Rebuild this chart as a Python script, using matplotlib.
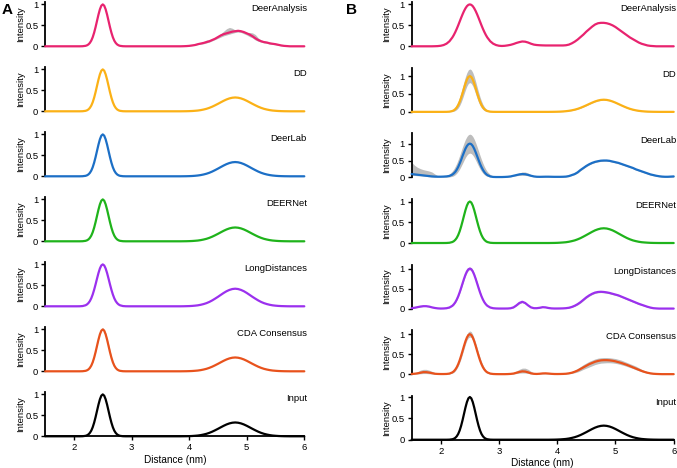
import numpy as np
import matplotlib
matplotlib.use("Agg")
import matplotlib.pyplot as plt

plt.rcParams['font.family'] = ['Liberation Sans', 'DejaVu Sans']

# ---------------- data ----------------
# sampling grid (nm): 0.05 nm steps, 0.025 nm steps across the 2.5 nm peak
distance_nm = np.concatenate([np.linspace(1.5, 2.15, 14),
                              np.linspace(2.2, 2.8, 25),
                              np.linspace(2.85, 6.0, 64)])
methods = ["DeerAnalysis", "DD", "DeerLab", "DEERNet", "LongDistances", "CDA Consensus", "Input"]
method_colors = ["#E8236F", "#FBB116", "#1C6FC6", "#1FB31B", "#9B30EE", "#E8521C", "#000000"]
x_ticks = [2, 3, 4, 5, 6]
y_ticks = [0, 0.5, 1]

# ---- panel A ----
a_deeranalysis = [
    0, 0, 0, 0, 0, 0, 0, 0, 0, 0, 0, 0, 0, 0.002,
    0.011, 0.023, 0.044, 0.080, 0.135, 0.216, 0.325, 0.458, 0.607, 0.755, 0.882, 0.969,
    1.0, 0.969, 0.882, 0.755, 0.607, 0.458, 0.325, 0.216, 0.135, 0.080, 0.044, 0.023, 0.011,
    0.002, 0, 0,
    0, 0, 0, 0, 0, 0, 0, 0, 0, 0,
    0, 0, 0, 0, 0, 0, 0, 0, 0.002, 0.005,
    0.01, 0.02, 0.03, 0.05, 0.065, 0.08, 0.10, 0.12, 0.15, 0.18,
    0.22, 0.26, 0.29, 0.31, 0.33, 0.35, 0.36, 0.37, 0.36, 0.34,
    0.31, 0.28, 0.24, 0.19, 0.15, 0.12, 0.10, 0.09, 0.07, 0.06,
    0.05, 0.035, 0.02, 0.01, 0.005, 0, 0, 0, 0, 0,
    0]
a_deeranalysis_hi = [
    0, 0, 0, 0, 0, 0, 0, 0, 0, 0, 0, 0, 0, 0.002,
    0.011, 0.023, 0.044, 0.080, 0.135, 0.216, 0.325, 0.458, 0.607, 0.755, 0.882, 0.969,
    1.0, 0.969, 0.882, 0.755, 0.607, 0.458, 0.325, 0.216, 0.135, 0.080, 0.044, 0.023, 0.011,
    0.002, 0, 0,
    0, 0, 0, 0, 0, 0, 0, 0, 0, 0,
    0, 0, 0, 0, 0, 0, 0, 0, 0.003, 0.007,
    0.012, 0.025, 0.04, 0.06, 0.08, 0.11, 0.15, 0.155, 0.17, 0.20,
    0.25, 0.30, 0.36, 0.42, 0.45, 0.43, 0.39, 0.38, 0.37, 0.35,
    0.33, 0.33, 0.32, 0.28, 0.20, 0.15, 0.13, 0.11, 0.10, 0.08,
    0.07, 0.05, 0.03, 0.015, 0.007, 0, 0, 0, 0, 0,
    0]
a_deeranalysis_lo = [
    0, 0, 0, 0, 0, 0, 0, 0, 0, 0, 0, 0, 0, 0.002,
    0.011, 0.023, 0.044, 0.080, 0.135, 0.216, 0.325, 0.458, 0.607, 0.755, 0.882, 0.969,
    1.0, 0.969, 0.882, 0.755, 0.607, 0.458, 0.325, 0.216, 0.135, 0.080, 0.044, 0.023, 0.011,
    0.002, 0, 0,
    0, 0, 0, 0, 0, 0, 0, 0, 0, 0,
    0, 0, 0, 0, 0, 0, 0, 0, 0.001, 0.003,
    0.008, 0.015, 0.022, 0.04, 0.05, 0.06, 0.08, 0.10, 0.13, 0.16,
    0.19, 0.22, 0.25, 0.27, 0.29, 0.31, 0.33, 0.34, 0.33, 0.30,
    0.27, 0.23, 0.20, 0.15, 0.12, 0.10, 0.08, 0.07, 0.055, 0.045,
    0.035, 0.02, 0.012, 0.005, 0.002, 0, 0, 0, 0, 0,
    0]
a_dd = [
    0, 0, 0, 0, 0, 0, 0, 0, 0, 0, 0, 0, 0, 0.002,
    0.011, 0.023, 0.044, 0.080, 0.135, 0.216, 0.325, 0.458, 0.607, 0.755, 0.882, 0.969,
    1.0, 0.969, 0.882, 0.755, 0.607, 0.458, 0.325, 0.216, 0.135, 0.080, 0.044, 0.023, 0.011,
    0.002, 0, 0,
    0, 0, 0, 0, 0, 0, 0, 0, 0, 0,
    0, 0, 0, 0, 0, 0, 0, 0, 0.001, 0.002,
    0.004, 0.007, 0.012, 0.018, 0.028, 0.042, 0.059, 0.082, 0.110, 0.143,
    0.178, 0.215, 0.251, 0.283, 0.308, 0.324, 0.330, 0.324, 0.308, 0.283,
    0.251, 0.215, 0.178, 0.143, 0.110, 0.082, 0.059, 0.042, 0.028, 0.018,
    0.012, 0.007, 0.004, 0.002, 0.001, 0, 0, 0, 0, 0,
    0]
a_deerlab = [
    0, 0, 0, 0, 0, 0, 0, 0, 0, 0, 0, 0, 0, 0.002,
    0.011, 0.023, 0.044, 0.080, 0.135, 0.216, 0.325, 0.458, 0.607, 0.755, 0.882, 0.969,
    1.0, 0.969, 0.882, 0.755, 0.607, 0.458, 0.325, 0.216, 0.135, 0.080, 0.044, 0.023, 0.011,
    0.002, 0, 0,
    0, 0, 0, 0, 0, 0, 0, 0, 0, 0,
    0, 0, 0, 0, 0, 0, 0, 0, 0.001, 0.002,
    0.004, 0.007, 0.012, 0.019, 0.029, 0.043, 0.061, 0.084, 0.113, 0.147,
    0.183, 0.221, 0.258, 0.291, 0.317, 0.334, 0.340, 0.334, 0.317, 0.291,
    0.258, 0.221, 0.183, 0.147, 0.113, 0.084, 0.061, 0.043, 0.029, 0.019,
    0.012, 0.007, 0.004, 0.002, 0.001, 0, 0, 0, 0, 0,
    0]
a_deernet = [
    0, 0, 0, 0, 0, 0, 0, 0, 0, 0, 0, 0, 0, 0.002,
    0.011, 0.023, 0.044, 0.080, 0.135, 0.216, 0.325, 0.458, 0.607, 0.755, 0.882, 0.969,
    1.0, 0.969, 0.882, 0.755, 0.607, 0.458, 0.325, 0.216, 0.135, 0.080, 0.044, 0.023, 0.011,
    0.002, 0, 0,
    0, 0, 0, 0, 0, 0, 0, 0, 0, 0,
    0, 0, 0, 0, 0, 0, 0, 0, 0.001, 0.002,
    0.004, 0.007, 0.012, 0.018, 0.028, 0.042, 0.059, 0.082, 0.110, 0.143,
    0.178, 0.215, 0.251, 0.283, 0.308, 0.324, 0.330, 0.324, 0.308, 0.283,
    0.251, 0.215, 0.178, 0.143, 0.110, 0.082, 0.059, 0.042, 0.028, 0.018,
    0.012, 0.007, 0.004, 0.002, 0.001, 0, 0, 0, 0, 0,
    0]
a_longdistances = [
    0, 0, 0, 0, 0, 0, 0, 0, 0, 0, 0, 0, 0.001, 0.006,
    0.024, 0.044, 0.076, 0.123, 0.191, 0.282, 0.395, 0.524, 0.661, 0.793, 0.902, 0.975,
    1.0, 0.975, 0.902, 0.793, 0.661, 0.524, 0.395, 0.282, 0.191, 0.123, 0.076, 0.044, 0.024,
    0.006, 0.001, 0,
    0, 0, 0, 0, 0, 0, 0, 0, 0, 0,
    0, 0, 0, 0, 0, 0, 0, 0, 0.001, 0.003,
    0.005, 0.009, 0.015, 0.023, 0.036, 0.053, 0.075, 0.104, 0.140, 0.182,
    0.226, 0.273, 0.319, 0.360, 0.391, 0.412, 0.420, 0.412, 0.391, 0.360,
    0.319, 0.273, 0.226, 0.182, 0.140, 0.104, 0.075, 0.053, 0.036, 0.023,
    0.015, 0.009, 0.005, 0.003, 0.001, 0, 0, 0, 0, 0,
    0]
a_cda = [
    0, 0, 0, 0, 0, 0, 0, 0, 0, 0, 0, 0, 0, 0.002,
    0.011, 0.023, 0.044, 0.080, 0.135, 0.216, 0.325, 0.458, 0.607, 0.755, 0.882, 0.969,
    1.0, 0.969, 0.882, 0.755, 0.607, 0.458, 0.325, 0.216, 0.135, 0.080, 0.044, 0.023, 0.011,
    0.002, 0, 0,
    0, 0, 0, 0, 0, 0, 0, 0, 0, 0,
    0, 0, 0, 0, 0, 0, 0, 0, 0.001, 0.002,
    0.004, 0.007, 0.012, 0.018, 0.028, 0.042, 0.059, 0.082, 0.110, 0.143,
    0.178, 0.215, 0.251, 0.283, 0.308, 0.324, 0.330, 0.324, 0.308, 0.283,
    0.251, 0.215, 0.178, 0.143, 0.110, 0.082, 0.059, 0.042, 0.028, 0.018,
    0.012, 0.007, 0.004, 0.002, 0.001, 0, 0, 0, 0, 0,
    0]
a_cda_hi = [
    0, 0, 0, 0, 0, 0, 0, 0, 0, 0, 0, 0, 0, 0.003,
    0.015, 0.03, 0.06, 0.10, 0.16, 0.25, 0.36, 0.50, 0.65, 0.79, 0.92, 1.0,
    1.04, 1.0, 0.92, 0.79, 0.65, 0.50, 0.36, 0.25, 0.16, 0.10, 0.06, 0.03, 0.015,
    0.003, 0, 0,
    0, 0, 0, 0, 0, 0, 0, 0, 0, 0,
    0, 0, 0, 0, 0, 0, 0, 0, 0.001, 0.002,
    0.004, 0.007, 0.012, 0.018, 0.028, 0.042, 0.059, 0.082, 0.110, 0.143,
    0.178, 0.215, 0.251, 0.283, 0.308, 0.324, 0.330, 0.324, 0.308, 0.283,
    0.251, 0.215, 0.178, 0.143, 0.110, 0.082, 0.059, 0.042, 0.028, 0.018,
    0.012, 0.007, 0.004, 0.002, 0.001, 0, 0, 0, 0, 0,
    0]
a_input = [
    0, 0, 0, 0, 0, 0, 0, 0, 0, 0, 0, 0, 0, 0.002,
    0.011, 0.023, 0.044, 0.080, 0.135, 0.216, 0.325, 0.458, 0.607, 0.755, 0.882, 0.969,
    1.0, 0.969, 0.882, 0.755, 0.607, 0.458, 0.325, 0.216, 0.135, 0.080, 0.044, 0.023, 0.011,
    0.002, 0, 0,
    0, 0, 0, 0, 0, 0, 0, 0, 0, 0,
    0, 0, 0, 0, 0, 0, 0, 0, 0.001, 0.002,
    0.004, 0.007, 0.012, 0.018, 0.028, 0.042, 0.059, 0.082, 0.110, 0.143,
    0.178, 0.215, 0.251, 0.283, 0.308, 0.324, 0.330, 0.324, 0.308, 0.283,
    0.251, 0.215, 0.178, 0.143, 0.110, 0.082, 0.059, 0.042, 0.028, 0.018,
    0.012, 0.007, 0.004, 0.002, 0.001, 0, 0, 0, 0, 0,
    0]

# ---- panel B ----
b_deeranalysis = [
    0, 0, 0, 0, 0, 0, 0, 0, 0.002, 0.005, 0.013, 0.030, 0.063, 0.120,
    0.211, 0.270, 0.339, 0.416, 0.500, 0.589, 0.678, 0.763, 0.841, 0.907, 0.958, 0.989,
    1.0, 0.989, 0.958, 0.907, 0.841, 0.763, 0.678, 0.589, 0.500, 0.416, 0.339, 0.270, 0.211,
    0.120, 0.063, 0.030,
    0.013, 0.008, 0.012, 0.022, 0.035, 0.055, 0.080, 0.100, 0.115, 0.110,
    0.090, 0.062, 0.040, 0.030, 0.025, 0.022, 0.020, 0.020, 0.020, 0.020,
    0.020, 0.020, 0.020, 0.025, 0.040, 0.070, 0.110, 0.160, 0.220, 0.280,
    0.350, 0.410, 0.470, 0.520, 0.550, 0.560, 0.560, 0.550, 0.530, 0.500,
    0.460, 0.410, 0.360, 0.310, 0.260, 0.210, 0.170, 0.130, 0.090, 0.060,
    0.040, 0.020, 0.010, 0.005, 0, 0, 0, 0, 0, 0,
    0]
b_dd = [
    0, 0, 0, 0, 0, 0, 0, 0, 0, 0, 0, 0, 0.001, 0.006,
    0.024, 0.044, 0.076, 0.123, 0.191, 0.282, 0.395, 0.524, 0.661, 0.793, 0.902, 0.975,
    1.0, 0.975, 0.902, 0.793, 0.661, 0.524, 0.395, 0.282, 0.191, 0.123, 0.076, 0.044, 0.024,
    0.006, 0.001, 0,
    0, 0, 0, 0, 0, 0, 0, 0, 0, 0,
    0, 0, 0, 0, 0, 0, 0, 0, 0.001, 0.002,
    0.004, 0.007, 0.012, 0.019, 0.029, 0.043, 0.061, 0.084, 0.113, 0.147,
    0.183, 0.221, 0.258, 0.291, 0.317, 0.334, 0.340, 0.334, 0.317, 0.291,
    0.258, 0.221, 0.183, 0.147, 0.113, 0.084, 0.061, 0.043, 0.029, 0.019,
    0.012, 0.007, 0.004, 0.002, 0.001, 0, 0, 0, 0, 0,
    0]
b_dd_hi = [
    0, 0, 0, 0, 0, 0, 0, 0, 0, 0, 0, 0.001, 0.005, 0.017,
    0.053, 0.086, 0.137, 0.206, 0.299, 0.414, 0.550, 0.697, 0.848, 0.988, 1.100, 1.175,
    1.2, 1.175, 1.100, 0.988, 0.848, 0.697, 0.550, 0.414, 0.299, 0.206, 0.137, 0.086, 0.053,
    0.017, 0.005, 0.001,
    0, 0, 0, 0, 0, 0, 0, 0, 0, 0,
    0, 0, 0, 0, 0, 0, 0, 0, 0.002, 0.003,
    0.006, 0.010, 0.016, 0.024, 0.035, 0.050, 0.069, 0.093, 0.123, 0.157,
    0.193, 0.231, 0.268, 0.301, 0.327, 0.344, 0.350, 0.344, 0.327, 0.301,
    0.268, 0.231, 0.193, 0.157, 0.123, 0.093, 0.069, 0.050, 0.035, 0.024,
    0.016, 0.010, 0.006, 0.003, 0.001, 0, 0, 0, 0, 0,
    0]
b_dd_lo = [
    0, 0, 0, 0, 0, 0, 0, 0, 0, 0, 0, 0, 0, 0.002,
    0.009, 0.019, 0.036, 0.066, 0.111, 0.177, 0.266, 0.376, 0.498, 0.619, 0.724, 0.795,
    0.82, 0.795, 0.724, 0.619, 0.498, 0.376, 0.266, 0.177, 0.111, 0.066, 0.036, 0.019, 0.009,
    0.002, 0, 0,
    0, 0, 0, 0, 0, 0, 0, 0, 0, 0,
    0, 0, 0, 0, 0, 0, 0, 0, 0, 0.001,
    0.002, 0.004, 0.008, 0.014, 0.023, 0.036, 0.053, 0.075, 0.103, 0.137,
    0.173, 0.211, 0.248, 0.281, 0.307, 0.324, 0.330, 0.324, 0.307, 0.281,
    0.248, 0.211, 0.173, 0.137, 0.103, 0.075, 0.053, 0.036, 0.023, 0.014,
    0.008, 0.004, 0.002, 0.001, 0, 0, 0, 0, 0, 0,
    0]
b_deerlab = [
    0.10, 0.09, 0.08, 0.07, 0.06, 0.05, 0.04, 0.03, 0.025, 0.022, 0.022, 0.025, 0.03, 0.045,
    0.085, 0.12, 0.165, 0.23, 0.31, 0.41, 0.515, 0.635, 0.744, 0.85, 0.93, 0.982,
    1.0, 0.982, 0.929, 0.847, 0.744, 0.630, 0.514, 0.404, 0.306, 0.224, 0.157, 0.107, 0.070,
    0.030, 0.015, 0.012,
    0.012, 0.012, 0.015, 0.02, 0.03, 0.05, 0.07, 0.09, 0.10, 0.095,
    0.075, 0.05, 0.03, 0.02, 0.018, 0.02, 0.022, 0.022, 0.02, 0.018,
    0.018, 0.018, 0.02, 0.025, 0.04, 0.07, 0.10, 0.15, 0.22, 0.28,
    0.34, 0.39, 0.43, 0.46, 0.48, 0.495, 0.50, 0.50, 0.49, 0.47,
    0.45, 0.43, 0.40, 0.37, 0.34, 0.31, 0.28, 0.24, 0.21, 0.18,
    0.15, 0.12, 0.09, 0.07, 0.05, 0.035, 0.025, 0.02, 0.02, 0.025,
    0.03]
b_deerlab_hi = [
    0.45, 0.36, 0.30, 0.26, 0.23, 0.21, 0.19, 0.16, 0.10, 0.05, 0.05, 0.06, 0.07, 0.10,
    0.19, 0.25, 0.33, 0.42, 0.53, 0.65, 0.78, 0.905, 1.024, 1.13, 1.211, 1.262,
    1.28, 1.262, 1.211, 1.13, 1.024, 0.905, 0.777, 0.648, 0.526, 0.416, 0.319, 0.238, 0.173,
    0.084, 0.04, 0.02,
    0.02, 0.02, 0.025, 0.03, 0.045, 0.07, 0.10, 0.13, 0.16, 0.16,
    0.13, 0.08, 0.05, 0.035, 0.03, 0.03, 0.03, 0.03, 0.03, 0.025,
    0.025, 0.025, 0.03, 0.035, 0.055, 0.085, 0.12, 0.17, 0.24, 0.30,
    0.36, 0.41, 0.45, 0.48, 0.50, 0.515, 0.52, 0.52, 0.51, 0.49,
    0.47, 0.45, 0.42, 0.39, 0.36, 0.33, 0.30, 0.26, 0.23, 0.20,
    0.17, 0.14, 0.11, 0.09, 0.07, 0.055, 0.045, 0.04, 0.04, 0.045,
    0.05]
b_deerlab_lo = [
    0.06, 0.06, 0.05, 0.05, 0.04, 0.03, 0.02, 0.015, 0.01, 0.01, 0.01, 0.01, 0.01, 0.015,
    0.032, 0.052, 0.082, 0.124, 0.179, 0.248, 0.33, 0.418, 0.509, 0.593, 0.66, 0.705,
    0.72, 0.705, 0.66, 0.593, 0.509, 0.418, 0.33, 0.248, 0.179, 0.124, 0.082, 0.052, 0.032,
    0.015, 0.01, 0.01,
    0.005, 0.005, 0.008, 0.012, 0.02, 0.035, 0.05, 0.06, 0.065, 0.06,
    0.05, 0.03, 0.02, 0.012, 0.01, 0.012, 0.014, 0.014, 0.012, 0.01,
    0.01, 0.01, 0.012, 0.015, 0.028, 0.055, 0.085, 0.13, 0.20, 0.26,
    0.32, 0.37, 0.41, 0.44, 0.46, 0.475, 0.48, 0.48, 0.47, 0.45,
    0.43, 0.41, 0.38, 0.35, 0.32, 0.29, 0.26, 0.22, 0.19, 0.16,
    0.13, 0.10, 0.07, 0.05, 0.035, 0.02, 0.012, 0.008, 0.008, 0.01,
    0.012]
b_deernet = [
    0, 0, 0, 0, 0, 0, 0, 0, 0, 0, 0, 0, 0.001, 0.006,
    0.024, 0.044, 0.076, 0.123, 0.191, 0.282, 0.395, 0.524, 0.661, 0.793, 0.902, 0.975,
    1.0, 0.975, 0.902, 0.793, 0.661, 0.524, 0.395, 0.282, 0.191, 0.123, 0.076, 0.044, 0.024,
    0.006, 0.001, 0,
    0, 0, 0, 0, 0, 0, 0, 0, 0, 0,
    0, 0, 0, 0, 0, 0, 0, 0, 0.001, 0.002,
    0.004, 0.008, 0.013, 0.019, 0.030, 0.045, 0.063, 0.088, 0.118, 0.154,
    0.192, 0.231, 0.270, 0.305, 0.331, 0.349, 0.355, 0.349, 0.331, 0.305,
    0.270, 0.231, 0.192, 0.154, 0.118, 0.088, 0.063, 0.045, 0.030, 0.019,
    0.013, 0.008, 0.004, 0.002, 0.001, 0, 0, 0, 0, 0,
    0]
b_longdistances = [
    0.01, 0.02, 0.035, 0.05, 0.06, 0.06, 0.05, 0.03, 0.015, 0.005, 0.001, 0.003, 0.009, 0.027,
    0.070, 0.107, 0.157, 0.224, 0.306, 0.404, 0.514, 0.630, 0.744, 0.847, 0.929, 0.982,
    1.0, 0.982, 0.929, 0.847, 0.744, 0.630, 0.514, 0.404, 0.306, 0.224, 0.157, 0.107, 0.070,
    0.027, 0.009, 0.003,
    0.001, 0.001, 0.001, 0.002, 0.008, 0.03, 0.08, 0.14, 0.17, 0.14,
    0.08, 0.03, 0.01, 0.01, 0.02, 0.035, 0.03, 0.015, 0.005, 0.002,
    0.002, 0.003, 0.005, 0.01, 0.02, 0.04, 0.07, 0.11, 0.16, 0.22,
    0.28, 0.33, 0.37, 0.40, 0.415, 0.42, 0.415, 0.405, 0.39, 0.37,
    0.35, 0.33, 0.30, 0.27, 0.24, 0.21, 0.18, 0.15, 0.12, 0.095,
    0.07, 0.045, 0.025, 0.01, 0.004, 0, 0, 0, 0, 0,
    0]
b_longdistances_hi = [
    0.015, 0.025, 0.045, 0.06, 0.07, 0.07, 0.06, 0.04, 0.02, 0.008, 0.003, 0.005, 0.012, 0.032,
    0.08, 0.12, 0.17, 0.25, 0.33, 0.44, 0.55, 0.67, 0.78, 0.885, 0.97, 1.025,
    1.04, 1.025, 0.97, 0.885, 0.78, 0.67, 0.55, 0.44, 0.33, 0.25, 0.17, 0.12, 0.08,
    0.032, 0.012, 0.005,
    0.002, 0.002, 0.003, 0.006, 0.014, 0.04, 0.095, 0.16, 0.19, 0.16,
    0.095, 0.04, 0.016, 0.015, 0.025, 0.042, 0.038, 0.022, 0.01, 0.004,
    0.004, 0.005, 0.008, 0.015, 0.028, 0.052, 0.085, 0.13, 0.18, 0.24,
    0.30, 0.35, 0.39, 0.42, 0.435, 0.44, 0.435, 0.425, 0.41, 0.39,
    0.37, 0.35, 0.32, 0.29, 0.26, 0.23, 0.20, 0.17, 0.14, 0.11,
    0.085, 0.058, 0.035, 0.018, 0.008, 0.002, 0, 0, 0, 0,
    0]
b_longdistances_lo = [
    0.005, 0.015, 0.028, 0.042, 0.052, 0.052, 0.042, 0.024, 0.01, 0.002, 0, 0.001, 0.006, 0.022,
    0.06, 0.095, 0.145, 0.21, 0.29, 0.385, 0.49, 0.605, 0.72, 0.82, 0.9, 0.955,
    0.97, 0.955, 0.9, 0.82, 0.72, 0.605, 0.49, 0.385, 0.29, 0.21, 0.145, 0.095, 0.06,
    0.022, 0.006, 0.001,
    0, 0, 0.001, 0.001, 0.004, 0.022, 0.068, 0.12, 0.15, 0.12,
    0.068, 0.022, 0.006, 0.006, 0.015, 0.028, 0.024, 0.01, 0.002, 0,
    0, 0.001, 0.003, 0.006, 0.013, 0.03, 0.057, 0.092, 0.14, 0.20,
    0.26, 0.31, 0.35, 0.38, 0.395, 0.40, 0.395, 0.385, 0.37, 0.35,
    0.33, 0.31, 0.28, 0.25, 0.22, 0.19, 0.16, 0.13, 0.10, 0.08,
    0.057, 0.033, 0.015, 0.005, 0.001, 0, 0, 0, 0, 0,
    0]
b_cda = [
    0.005, 0.01, 0.02, 0.035, 0.05, 0.05, 0.04, 0.025, 0.01, 0.005, 0.003, 0.003, 0.005, 0.014,
    0.044, 0.072, 0.114, 0.172, 0.249, 0.345, 0.458, 0.581, 0.707, 0.823, 0.917, 0.979,
    1.0, 0.979, 0.917, 0.823, 0.707, 0.581, 0.458, 0.345, 0.249, 0.172, 0.114, 0.072, 0.044,
    0.014, 0.004, 0.001,
    0, 0, 0, 0.002, 0.006, 0.015, 0.035, 0.055, 0.07, 0.065,
    0.045, 0.02, 0.008, 0.005, 0.01, 0.018, 0.02, 0.015, 0.008, 0.004,
    0.003, 0.004, 0.006, 0.01, 0.02, 0.035, 0.06, 0.09, 0.13, 0.17,
    0.21, 0.25, 0.28, 0.31, 0.33, 0.345, 0.35, 0.35, 0.345, 0.335,
    0.32, 0.30, 0.28, 0.255, 0.23, 0.20, 0.17, 0.14, 0.11, 0.08,
    0.055, 0.035, 0.02, 0.01, 0.005, 0.002, 0, 0, 0, 0,
    0]
b_cda_hi = [
    0.01, 0.03, 0.06, 0.10, 0.12, 0.12, 0.10, 0.07, 0.04, 0.02, 0.01, 0.01, 0.015, 0.03,
    0.07, 0.105, 0.16, 0.23, 0.31, 0.42, 0.53, 0.66, 0.78, 0.895, 0.99, 1.06,
    1.08, 1.06, 0.99, 0.895, 0.78, 0.66, 0.53, 0.42, 0.31, 0.23, 0.16, 0.105, 0.07,
    0.03, 0.01, 0.005,
    0.003, 0.003, 0.005, 0.01, 0.02, 0.04, 0.08, 0.12, 0.15, 0.15,
    0.12, 0.07, 0.03, 0.02, 0.025, 0.035, 0.04, 0.035, 0.02, 0.01,
    0.008, 0.01, 0.015, 0.025, 0.04, 0.065, 0.10, 0.14, 0.19, 0.24,
    0.28, 0.32, 0.35, 0.38, 0.40, 0.41, 0.415, 0.415, 0.41, 0.40,
    0.39, 0.37, 0.35, 0.32, 0.29, 0.26, 0.23, 0.20, 0.16, 0.12,
    0.09, 0.06, 0.035, 0.02, 0.01, 0.005, 0, 0, 0, 0,
    0]
b_cda_lo = [
    0, 0, 0.005, 0.01, 0.015, 0.015, 0.01, 0.005, 0, 0, 0, 0, 0, 0.005,
    0.025, 0.045, 0.08, 0.135, 0.2, 0.29, 0.39, 0.51, 0.63, 0.75, 0.85, 0.91,
    0.93, 0.91, 0.85, 0.75, 0.63, 0.51, 0.39, 0.29, 0.2, 0.135, 0.08, 0.045, 0.025,
    0.005, 0, 0,
    0, 0, 0, 0, 0.002, 0.006, 0.015, 0.025, 0.03, 0.028,
    0.018, 0.008, 0.003, 0.002, 0.004, 0.007, 0.008, 0.006, 0.003, 0.001,
    0.001, 0.002, 0.003, 0.005, 0.01, 0.018, 0.035, 0.055, 0.085, 0.12,
    0.15, 0.18, 0.21, 0.24, 0.26, 0.275, 0.28, 0.285, 0.285, 0.28,
    0.27, 0.255, 0.235, 0.215, 0.19, 0.165, 0.14, 0.11, 0.085, 0.06,
    0.04, 0.02, 0.01, 0.005, 0.002, 0, 0, 0, 0, 0,
    0]
b_input = [
    0, 0, 0, 0, 0, 0, 0, 0, 0, 0, 0, 0, 0, 0.002,
    0.011, 0.023, 0.044, 0.080, 0.135, 0.216, 0.325, 0.458, 0.607, 0.755, 0.882, 0.969,
    1.0, 0.969, 0.882, 0.755, 0.607, 0.458, 0.325, 0.216, 0.135, 0.080, 0.044, 0.023, 0.011,
    0.002, 0, 0,
    0, 0, 0, 0, 0, 0, 0, 0, 0, 0,
    0, 0, 0, 0, 0, 0, 0, 0, 0.001, 0.002,
    0.004, 0.007, 0.012, 0.018, 0.028, 0.042, 0.059, 0.082, 0.110, 0.143,
    0.178, 0.215, 0.251, 0.283, 0.308, 0.324, 0.330, 0.324, 0.308, 0.283,
    0.251, 0.215, 0.178, 0.143, 0.110, 0.082, 0.059, 0.042, 0.028, 0.018,
    0.012, 0.007, 0.004, 0.002, 0.001, 0, 0, 0, 0, 0,
    0]

# (curve, lower band, upper band, y-axis top) for each method, per panel
panel_a = [
    (a_deeranalysis, a_deeranalysis_lo, a_deeranalysis_hi, 1.05),
    (a_dd, None, None, 1.05),
    (a_deerlab, None, None, 1.05),
    (a_deernet, None, None, 1.05),
    (a_longdistances, None, None, 1.05),
    (a_cda, a_cda, a_cda_hi, 1.05),
    (a_input, None, None, 1.05),
]
panel_b = [
    (b_deeranalysis, None, None, 1.05),
    (b_dd, b_dd_lo, b_dd_hi, 1.23),
    (b_deerlab, b_deerlab_lo, b_deerlab_hi, 1.30),
    (b_deernet, None, None, 1.06),
    (b_longdistances, b_longdistances_lo, b_longdistances_hi, 1.10),
    (b_cda, b_cda_lo, b_cda_hi, 1.10),
    (b_input, None, None, 1.03),
]

# ---------------- drawing ----------------
W, H = 677, 468
fig = plt.figure(figsize=(W / 100, H / 100), dpi=100)

columns = [
    dict(left=45.2, right=304.3, y0=46.3, step=65.0, panel=panel_a, letter="A", lx=2),
    dict(left=411.6, right=673.7, y0=46.3, step=65.57, panel=panel_b, letter="B", lx=346),
]
AX_H = 44.0
band_color = "#BDBDBD"
fs = 6.8

for col in columns:
    n = len(col["panel"])
    for i, (curve, lo, hi, ytop) in enumerate(col["panel"]):
        ybase = col["y0"] + col["step"] * i
        ax = fig.add_axes([col["left"] / W, (H - ybase) / H,
                           (col["right"] - col["left"]) / W, AX_H / H])
        if lo is not None:
            ax.fill_between(distance_nm, lo, hi, color=band_color, lw=0, zorder=1)
        ax.plot(distance_nm, curve, color=method_colors[i], lw=1.6, zorder=3,
                clip_on=False, solid_capstyle="round", solid_joinstyle="round")
        ax.set_xlim(1.5, 6.0)
        ax.set_ylim(0, ytop)
        ax.set_yticks(y_ticks)
        ax.set_yticklabels(["0", "0.5", "1"])
        for s in ["top", "right"]:
            ax.spines[s].set_visible(False)
        ax.spines["left"].set_linewidth(1.3)
        ax.tick_params(axis="y", length=3, width=1.0, pad=2, labelsize=fs)
        ax.set_ylabel("Intensity", fontsize=fs, labelpad=2)
        ax.yaxis.set_label_coords(-0.078, 0.5)
        ax.text(1.01, 0.85, methods[i], transform=ax.transAxes,
                ha="right", va="center", fontsize=fs)
        ax.patch.set_alpha(0)
        if i == n - 1:
            ax.spines["bottom"].set_linewidth(1.3)
            ax.set_xticks(x_ticks)
            ax.tick_params(axis="x", length=3, width=1.0, pad=2, labelsize=fs)
            ax.set_xlabel("Distance (nm)", fontsize=fs + 0.4, labelpad=2)
        else:
            ax.spines["bottom"].set_visible(False)
            ax.set_xticks([])
    fig.text(col["lx"] / W, 1 - 10 / H, col["letter"], fontsize=11,
             fontweight="bold", ha="left", va="center")

fig.savefig("out.png", dpi=100)
